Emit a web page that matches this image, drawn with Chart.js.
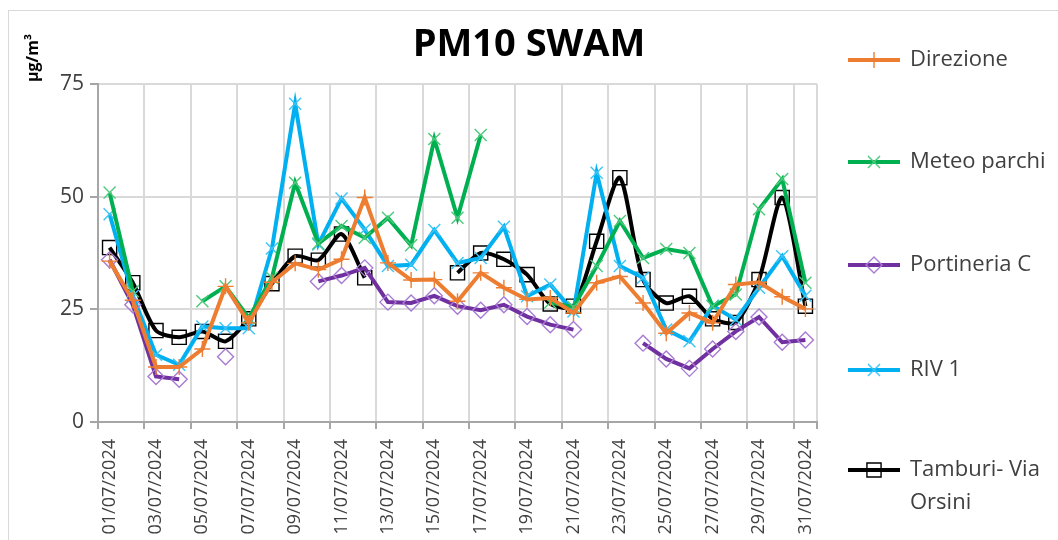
<!DOCTYPE html>
<html>
<head>
<meta charset="utf-8">
<script src="https://cdn.jsdelivr.net/npm/chart.js@4.4.1/dist/chart.umd.min.js"></script>
<style>
  html, body { margin: 0; padding: 0; background: #fff; }
  #wrap { width: 1058px; height: 540px; position: relative; }
</style>
</head>
<body>
<div id="wrap"><canvas id="pm10"></canvas></div>
<script>
// giorni di luglio 2024
var days = [];
for (var d = 1; d <= 31; d++) {
  days.push((d < 10 ? '0' + d : '' + d) + '/07/2024');
}

var yTicks = [0, 25, 50, 75];

// valori (µg/m3), null = dato mancante
var direzione = [35.7, 27, 12.2, 12.2, 16.2, 30.1, 22, 31, 35.2, 33.8, 36.1, 49.8, 35.3, 31.5, 31.6, 26.8,
  33.1, 29.8, 27.2, 27.5, 24.2, 30.9, 32.3, 26.4, 19.7, 24.2, 22.0, 30.5, 31.0, 27.8, 25.1];
var meteoParchi = [50.9, 29, null, null, 26.8, 30.1, 23.1, 32, 53.1, 39.6, 43.5, 40.9, 45.3, 39.2, 62.8, 45.3,
  63.7, null, null, 26.5, 25.5, 34.6, 44.6, 36.4, 38.4, 37.5, 25.7, 28.3, 47.2, 53.9, 30.9];
var portineriaC = [36, 26, 10.1, 9.5, null, 14.5, null, null, null, 31.2, 32.5, 34.2, 26.6, 26.4, 28.0, 25.7,
  24.8, 26.0, 23.4, 21.6, 20.5, null, null, 17.5, 14.0, 11.9, 16.2, 20.1, 23.3, 17.7, 18.2];
var riv1 = [46.1, 28, 14.9, 12.7, 21.2, 20.8, 20.8, 38.5, 70.6, 39.4, 49.6, 42.7, 34.6, 34.9, 42.6, 35.3,
  36.4, 43.3, 27.9, 30.5, 24.5, 55.3, 34.6, 32.0, 20.5, 17.9, 25.8, 22.7, 29.8, 36.8, 28.0];
var tamburi = [38.7, 30.9, 20.3, 18.8, 20.1, 17.9, 22.9, 30.7, 36.8, 35.9, 41.7, 32, null, null, null, 33.1,
  37.5, 36.1, 32.7, 26.2, 25.7, 40.1, 54.2, 31.6, 26.4, 27.9, 22.9, 22.1, 31.6, 49.8, 25.7];

var gridCol = '#d9d9d9';
var textCol = '#404040';

function serie(label, data, color, marker, style, radius) {
  return {
    label: label,
    data: data,
    borderColor: color,
    borderWidth: 4,
    pointStyle: style,
    pointRadius: radius,
    pointHoverRadius: radius,
    pointBorderColor: marker,
    pointBackgroundColor: 'rgba(0,0,0,0)',
    pointBorderWidth: 1.4,
    spanGaps: false,
    tension: 0
  };
}

var datasets = [
  serie('Direzione', direzione, '#ED7D31', '#ED7D31', 'cross', 8),
  serie('Meteo parchi', meteoParchi, '#00B050', '#4CC97A', 'crossRot', 8.5),
  serie('Portineria C', portineriaC, '#7030A0', '#A87BD3', 'rectRot', 8),
  serie('RIV 1', riv1, '#00B0F0', '#3CC4F5', 'crossRot', 8.5),
  serie(['Tamburi- Via', 'Orsini'], tamburi, '#000000', '#000000', 'rect', 10)
];
datasets[4].tension = 0.25;

// titolo, unità, legenda e cornice disegnati a mano
var decorPlugin = {
  id: 'decor',
  afterDraw: function(chart) {
    var ctx = chart.ctx;
    ctx.save();
    ctx.strokeStyle = gridCol;
    ctx.lineWidth = 1;
    ctx.strokeRect(8.5, 10.5, 1060, 540);

    ctx.fillStyle = '#000';
    ctx.font = 'bold 38px "Open Sans"';
    ctx.textAlign = 'center';
    ctx.textBaseline = 'middle';
    ctx.fillText('PM10 SWAM', 529, 45);

    ctx.save();
    ctx.translate(33, 58);
    ctx.rotate(-Math.PI / 2);
    ctx.font = 'bold 16px "Open Sans"';
    ctx.fillText('\u00b5g/m\u00b3', 0, 0);
    ctx.restore();

    var rows = [60, 162, 265, 370, 470];
    ctx.font = '22px "Open Sans"';
    ctx.textAlign = 'left';
    chart.data.datasets.forEach(function(ds, i) {
      var y = rows[i];
      ctx.strokeStyle = ds.borderColor;
      ctx.lineWidth = ds.borderWidth;
      ctx.beginPath();
      ctx.moveTo(848, y);
      ctx.lineTo(900, y);
      ctx.stroke();
      ctx.strokeStyle = ds.pointBorderColor;
      ctx.fillStyle = 'rgba(0,0,0,0)';
      ctx.lineWidth = ds.pointBorderWidth;
      Chart.helpers.drawPoint(ctx, {pointStyle: ds.pointStyle, radius: ds.pointRadius, borderWidth: ds.pointBorderWidth, rotation: 0}, 874, y);
      ctx.fillStyle = textCol;
      var lines = Array.isArray(ds.label) ? ds.label : [ds.label];
      lines.forEach(function(t, k) {
        ctx.fillText(t, 910, y + k * 33);
      });
    });
    ctx.restore();
  }
};

var canvas = document.getElementById('pm10');
var chart = new Chart(canvas, {
  type: 'line',
  data: { labels: days, datasets: datasets },
  options: {
    responsive: true,
    maintainAspectRatio: false,
    animation: false,
    layout: { padding: { top: 84, right: 241, left: 0, bottom: 0 } },
    plugins: {
      legend: { display: false },
      title: { display: false },
      tooltip: { enabled: false }
    },
    scales: {
      x: {
        offset: true,
        afterFit: function(s) { s.height = 118; },
        grid: {
          offset: true,
          lineWidth: 2,
          tickLength: 7,
          color: function(c) { return (c.index === undefined || c.index % 2 === 0) ? gridCol : 'rgba(0,0,0,0)'; },
          tickColor: function(c) { return (c.index === undefined || c.index % 2 === 0) ? '#a6a6a6' : 'rgba(0,0,0,0)'; }
        },
        border: { color: '#a6a6a6', width: 2 },
        ticks: {
          autoSkip: false,
          minRotation: 90,
          maxRotation: 90,
          padding: 10,
          color: textCol,
          font: { family: 'Open Sans', size: 18 },
          callback: function(v, i) { return i % 2 === 0 ? days[i] : ''; }
        }
      },
      y: {
        min: 0,
        max: 75,
        afterFit: function(s) { s.width = 98; },
        afterBuildTicks: function(s) { s.ticks = yTicks.map(function(v) { return { value: v }; }); },
        grid: { color: gridCol, lineWidth: 2, tickLength: 8, tickColor: '#a6a6a6' },
        border: { color: '#a6a6a6', width: 2 },
        ticks: {
          padding: 6,
          color: textCol,
          font: { family: 'Open Sans', size: 21 }
        }
      }
    }
  },
  plugins: [decorPlugin]
});
</script>
</body>
</html>
